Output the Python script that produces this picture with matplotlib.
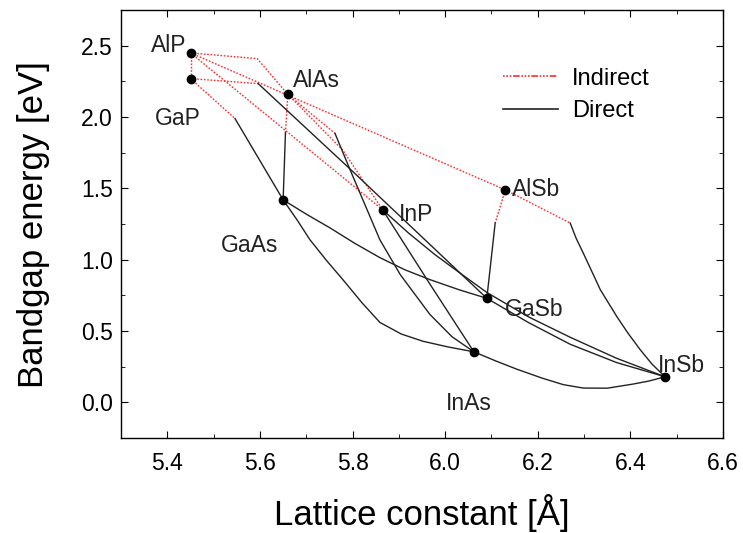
import matplotlib
matplotlib.use('Agg')
import matplotlib.pyplot as plt
from matplotlib.lines import Line2D
from matplotlib.ticker import MultipleLocator

plt.rcParams['font.family'] = ['Liberation Sans', 'DejaVu Sans']

# binary compounds: lattice constant [A], bandgap [eV]
names = ['AlP', 'GaP', 'AlAs', 'GaAs', 'InP', 'AlSb', 'GaSb', 'InAs', 'InSb']
lattice = [5.45, 5.45, 5.66, 5.65, 5.865, 6.13, 6.09, 6.062, 6.475]
gap = [2.45, 2.27, 2.16, 1.42, 1.35, 1.49, 0.73, 0.355, 0.18]

# ternary curves, split in indirect / direct parts
indirect = [
    ([5.45, 5.45], [2.45, 2.27]),                       # AlP-GaP
    ([5.45, 5.594, 5.66], [2.45, 2.41, 2.16]),          # AlP-AlAs
    ([5.45, 6.13], [2.45, 1.49]),                       # AlP-AlSb
    ([5.45, 5.865], [2.45, 1.35]),                      # AlP-InP
    ([5.66, 5.779, 5.865], [2.16, 1.768, 1.35]),        # AlAs-InP
    ([5.66, 5.655], [2.16, 1.89]),                      # AlAs-GaAs
    ([5.45, 5.546], [2.27, 1.99]),                      # GaP-GaAs
    ([5.45, 5.596], [2.27, 2.235]),                     # GaP-GaSb
    ([5.66, 5.762], [2.16, 1.886]),                     # AlAs-InAs
    ([6.13, 6.108], [1.49, 1.258]),                     # AlSb-GaSb
    ([6.13, 6.27], [1.49, 1.258]),                      # AlSb-InSb
]
direct = [
    ([5.655, 5.65], [1.89, 1.42]),                                  # AlAs-GaAs
    ([5.546, 5.65], [1.99, 1.42]),                                  # GaP-GaAs
    ([5.596, 5.80, 6.09], [2.235, 1.62, 0.73]),                     # GaP-GaSb
    ([5.762, 5.795, 5.827, 5.859, 5.903, 5.967, 6.015, 6.062],
     [1.886, 1.628, 1.384, 1.14, 0.896, 0.617, 0.46, 0.355]),       # AlAs-InAs
    ([6.108, 6.09], [1.258, 0.73]),                                 # AlSb-GaSb
    ([6.27, 6.283, 6.298, 6.317, 6.335, 6.371, 6.395, 6.421, 6.447, 6.475],
     [1.258, 1.15, 1.049, 0.917, 0.791, 0.601, 0.485, 0.371, 0.268, 0.18]),  # AlSb-InSb
    ([5.65, 5.70, 5.751, 5.805, 5.859, 5.913, 5.967, 6.03, 6.09],
     [1.42, 1.32, 1.224, 1.115, 1.015, 0.93, 0.861, 0.79, 0.73]),   # GaAs-GaSb
    ([5.65, 5.68, 5.708, 5.745, 5.779, 5.82, 5.859, 5.905, 5.952, 6.005, 6.062],
     [1.42, 1.28, 1.14, 0.99, 0.861, 0.70, 0.561, 0.48, 0.429, 0.39, 0.355]),  # GaAs-InAs
    ([5.865, 5.965, 6.062], [1.35, 0.84, 0.355]),                   # InP-InAs
    ([5.865, 5.92, 5.978, 6.035, 6.09, 6.18, 6.27, 6.37, 6.475],
     [1.35, 1.19, 1.036, 0.90, 0.771, 0.60, 0.457, 0.31, 0.18]),    # InP-InSb
    ([6.09, 6.18, 6.27, 6.37, 6.475], [0.73, 0.56, 0.408, 0.28, 0.18]),  # GaSb-InSb
    ([6.062, 6.11, 6.155, 6.21, 6.255, 6.298, 6.35, 6.406, 6.44, 6.475],
     [0.355, 0.29, 0.233, 0.17, 0.125, 0.101, 0.1, 0.129, 0.15, 0.18]),  # InAs-InSb
]

# label offsets in points and alignment
label_pos = {
    'AlP': (-3, 5, 'right'), 'GaP': (-9, -29, 'center'), 'AlAs': (3.5, 10, 'left'),
    'GaAs': (-24, -33, 'center'), 'InP': (11.5, -3, 'left'), 'AlSb': (5, 0, 'left'),
    'GaSb': (13, -8, 'left'), 'InAs': (-4, -37, 'center'), 'InSb': (-5, 8, 'left'),
}

fig = plt.figure(figsize=(7.43, 5.33), dpi=100)
ax = fig.add_axes([0.163, 0.178, 0.81, 0.803])

red_style = (0, (1.2, 1.2))
for xs, ys in indirect:
    ax.plot(xs, ys, color='#ff2a2a', lw=1.0, linestyle=red_style)
for xs, ys in direct:
    ax.plot(xs, ys, color='#222222', lw=1.0)

ax.plot(lattice, gap, 'o', color='black', markersize=6, zorder=5)
for n, a, e in zip(names, lattice, gap):
    dx, dy, ha = label_pos[n]
    ax.annotate(n, (a, e), xytext=(dx, dy), textcoords='offset points',
                fontsize=16.5, ha=ha, va='center', color='#222222')

ax.set_xlim(5.3, 6.6)
ax.set_ylim(-0.25, 2.75)
ax.xaxis.set_major_locator(MultipleLocator(0.2))
ax.xaxis.set_minor_locator(MultipleLocator(0.1))
ax.yaxis.set_major_locator(MultipleLocator(0.5))
ax.yaxis.set_minor_locator(MultipleLocator(0.25))
ax.tick_params(which='both', direction='in', top=True, right=True, labelsize=16.5)
ax.tick_params(which='major', length=5)
ax.tick_params(which='minor', length=3)
ax.tick_params(axis='x', pad=10)
ax.tick_params(axis='y', pad=6)
for s in ax.spines.values():
    s.set_linewidth(1.0)

ax.set_xlabel('Lattice constant [Å]', fontsize=25, labelpad=14)
ax.set_ylabel('Bandgap energy [eV]', fontsize=25, labelpad=22)

handles = [Line2D([], [], color='#ff2a2a', lw=1.2, linestyle=(0, (1, 1, 1, 1, 1, 1, 4, 1))),
           Line2D([], [], color='#222222', lw=1.2)]
ax.legend(handles, ['Indirect', 'Direct'], loc='upper left', bbox_to_anchor=(0.6, 0.915),
          frameon=False, fontsize=17, handlelength=2.3, labelspacing=0.45, handletextpad=0.6)

fig.savefig('out.png', dpi=100)
